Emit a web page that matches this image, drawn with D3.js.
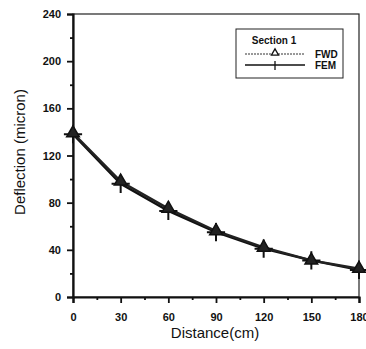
<!DOCTYPE html>
<html>
<head>
<meta charset="utf-8">
<script src="https://cdn.jsdelivr.net/npm/d3@7"></script>
<style>
  body { margin: 0; background: #fff; }
  text { font-family: "Liberation Sans", Arial, sans-serif; font-weight: bold; fill: #111; }
</style>
</head>
<body>
<svg id="chart" width="366" height="349"></svg>
<script>
const distance = [0, 30, 60, 90, 120, 150, 180];
const fwd = [139, 98, 75, 56, 42, 31, 24];
const fem = [138, 96, 73, 55, 41, 31, 23];
const xTicks = [0, 30, 60, 90, 120, 150, 180];
const yTicks = [0, 40, 80, 120, 160, 200, 240];

const svg = d3.select("#chart");
const mLeft = 73, mRight = 359, mTop = 14, mBottom = 297;

const x = d3.scaleLinear().domain([0, 180]).range([mLeft, mRight]);
const y = d3.scaleLinear().domain([0, 240]).range([mBottom, mTop]);

// frame
svg.append("rect")
    .attr("x", mLeft).attr("y", mTop)
    .attr("width", mRight - mLeft).attr("height", mBottom - mTop)
    .attr("fill", "none").attr("stroke", "#222").attr("stroke-width", 1.2);

// axes
svg.append("g")
    .attr("transform", `translate(0,${mBottom})`)
    .call(d3.axisBottom(x).tickValues(xTicks).tickSize(6).tickPadding(10));
svg.append("g")
    .attr("transform", `translate(0,${mBottom})`)
    .call(d3.axisBottom(x).tickValues(d3.range(15, 180, 30)).tickSize(3).tickFormat(""))
    .select(".domain").remove();

svg.append("g")
    .attr("transform", `translate(${mLeft},0)`)
    .call(d3.axisLeft(y).tickValues(yTicks).tickSize(6).tickPadding(6));
svg.append("g")
    .attr("transform", `translate(${mLeft},0)`)
    .call(d3.axisLeft(y).tickValues(d3.range(20, 240, 40)).tickSize(3).tickFormat(""))
    .select(".domain").remove();

svg.selectAll(".domain").attr("stroke", "#111").attr("stroke-width", 2.2);
svg.selectAll(".tick line").attr("stroke", "#111").attr("stroke-width", 1.8);
svg.selectAll(".tick text").style("font-size", "11px")
    .style("font-family", "Liberation Sans, Arial, sans-serif").style("font-weight", "bold");

// axis titles
svg.append("text")
    .attr("x", 215).attr("y", 338)
    .attr("text-anchor", "middle").style("font-size", "15px").style("font-weight", "normal")
    .text("Distance(cm)");
svg.append("text")
    .attr("transform", "translate(25,152) rotate(-90)")
    .attr("text-anchor", "middle").style("font-size", "15px").style("font-weight", "normal")
    .text("Deflection (micron)");

// lines
const line = d3.line().x((d, i) => x(distance[i])).y(d => y(d));
svg.append("path").datum(fem).attr("d", line)
    .attr("fill", "none").attr("stroke", "#111").attr("stroke-width", 2.4);
svg.append("path").datum(fwd).attr("d", line)
    .attr("fill", "none").attr("stroke", "#222").attr("stroke-width", 2.4);

// FEM markers (plus)
svg.selectAll(".fem").data(fem).enter().append("path")
    .attr("d", d3.symbol(d3.symbolPlus, 110))
    .attr("transform", (d, i) => `translate(${x(distance[i])},${y(d)})`)
    .attr("fill", "none").attr("stroke", "#111").attr("stroke-width", 2);

// FWD markers (triangle)
svg.selectAll(".fwd").data(fwd).enter().append("path")
    .attr("d", d3.symbol(d3.symbolTriangle, 70))
    .attr("transform", (d, i) => `translate(${x(distance[i])},${y(d)})`)
    .attr("fill", "#222").attr("stroke", "#111").attr("stroke-width", 1.5);

// legend
const lg = svg.append("g");
lg.append("rect").attr("x", 236).attr("y", 29).attr("width", 107).attr("height", 49)
    .attr("fill", "#fff").attr("stroke", "#222").attr("stroke-width", 1);
lg.append("text").attr("x", 274).attr("y", 44).attr("text-anchor", "middle")
    .style("font-size", "10px").text("Section 1");
lg.append("line").attr("x1", 245).attr("x2", 305).attr("y1", 54).attr("y2", 54)
    .attr("stroke", "#333").attr("stroke-width", 1).attr("stroke-dasharray", "2,1");
lg.append("path").attr("d", d3.symbol(d3.symbolTriangle, 22))
    .attr("transform", "translate(275,53)")
    .attr("fill", "#fff").attr("stroke", "#111").attr("stroke-width", 1.3);
lg.append("text").attr("x", 315).attr("y", 58).style("font-size", "10px").text("FWD");
lg.append("line").attr("x1", 245).attr("x2", 305).attr("y1", 65).attr("y2", 65)
    .attr("stroke", "#111").attr("stroke-width", 1.3);
lg.append("line").attr("x1", 275).attr("x2", 275).attr("y1", 61).attr("y2", 70)
    .attr("stroke", "#111").attr("stroke-width", 1.3);
lg.append("text").attr("x", 315).attr("y", 69).style("font-size", "10px").text("FEM");
</script>
</body>
</html>
